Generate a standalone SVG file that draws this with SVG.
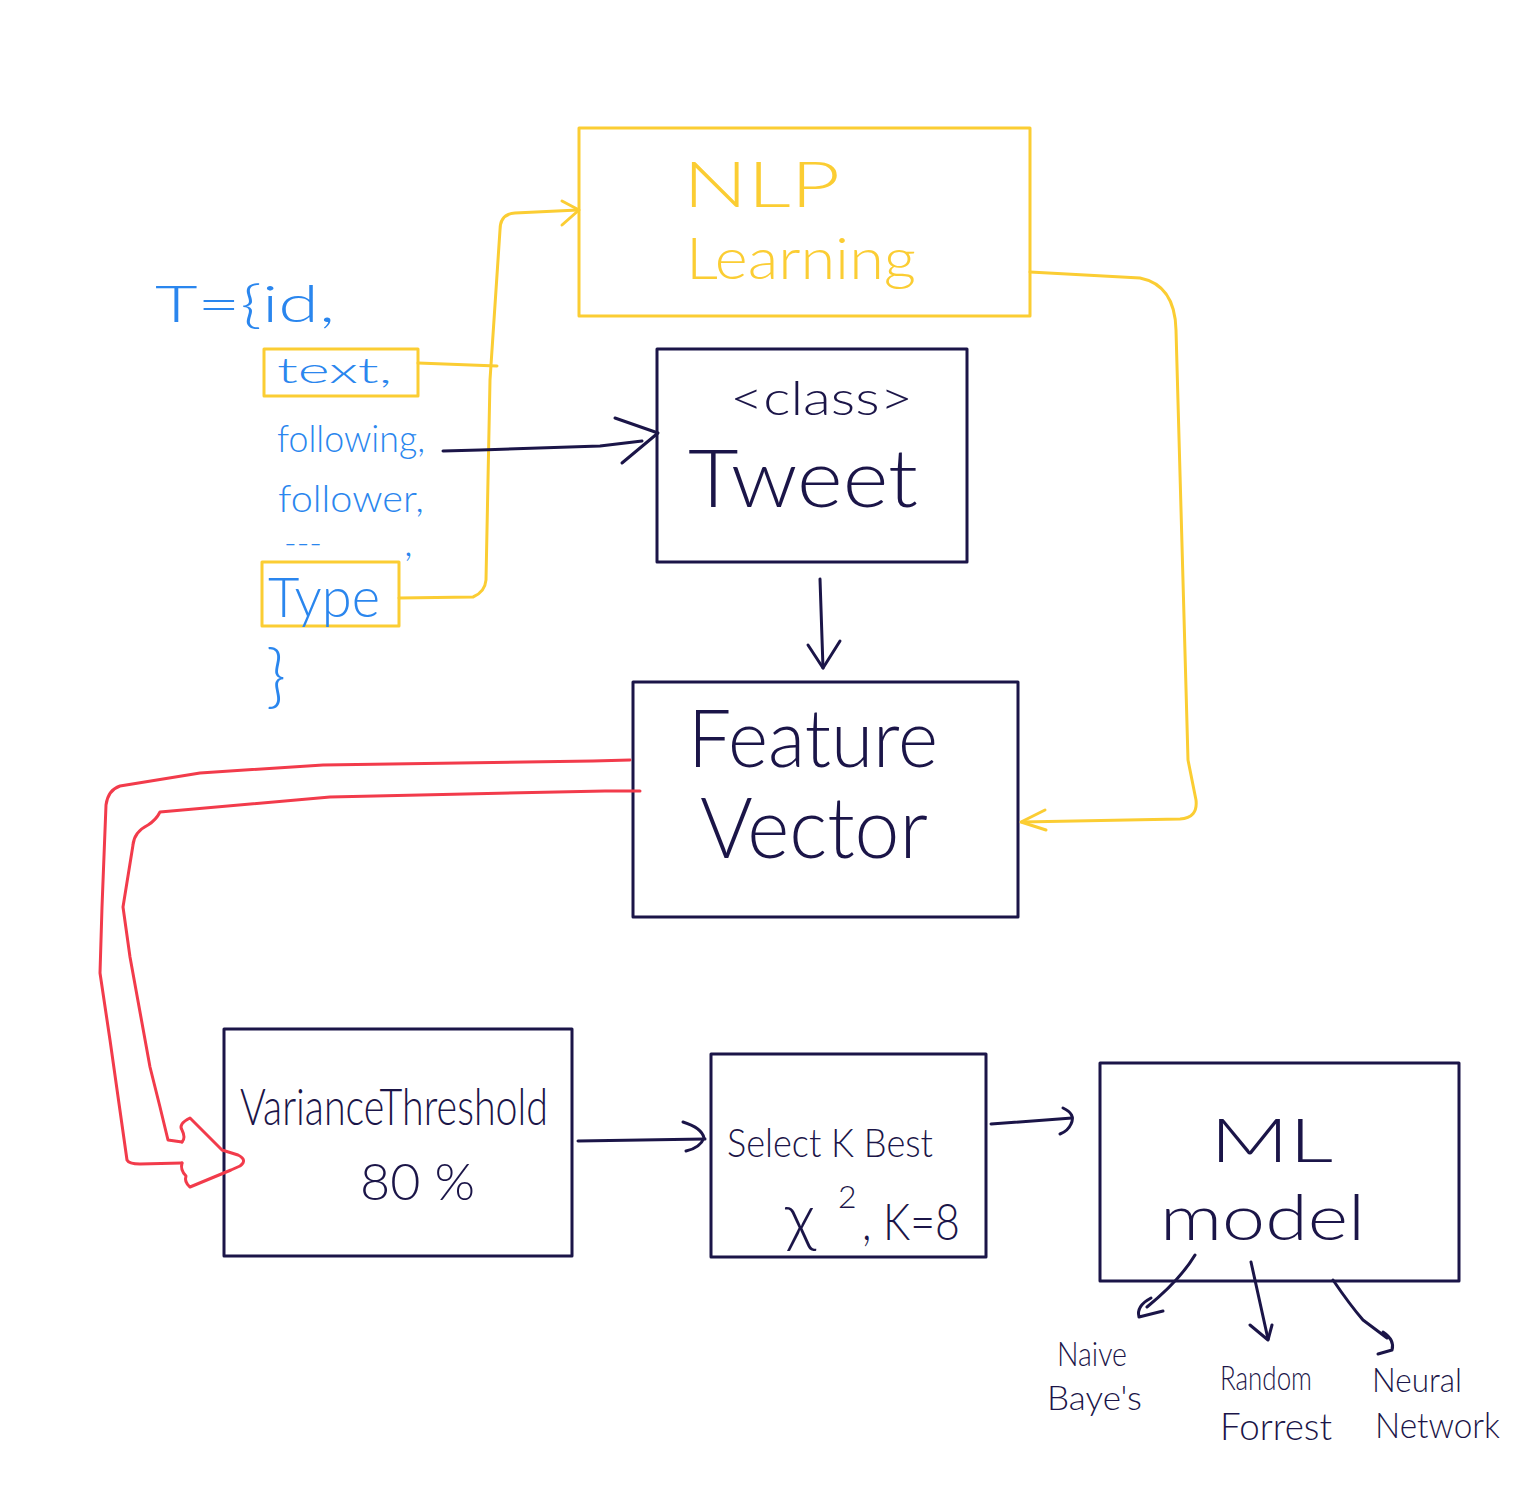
<svg xmlns="http://www.w3.org/2000/svg" width="1536" height="1496" viewBox="0 0 1536 1496">
<style>
.bg{fill:#ffffff}
.nv{fill:none;stroke:#1b1548;stroke-width:3;stroke-linecap:round;stroke-linejoin:round}
.ye{fill:none;stroke:#fbcd33;stroke-width:3;stroke-linecap:round;stroke-linejoin:round}
.rd{fill:none;stroke:#f23b4b;stroke-width:3;stroke-linecap:round;stroke-linejoin:round}
text{font-family:Lato,"Open Sans","Liberation Sans",sans-serif;font-weight:300}
.tn{fill:#1b1548}
.ty{fill:#fbcd33}
.tb{fill:#2a86ee}
</style>
<rect class="bg" x="0" y="0" width="1536" height="1496"/>

<g id="tweet-fields">
  <text class="tb" x="155" y="322" font-size="52" textLength="180" lengthAdjust="spacingAndGlyphs">T={id,</text>
  <rect class="ye" x="264" y="349" width="154" height="47"/>
  <text class="tb" x="277" y="383" font-size="36" textLength="115" lengthAdjust="spacingAndGlyphs">text,</text>
  <text class="tb" x="277" y="452" font-size="38" textLength="148" lengthAdjust="spacingAndGlyphs">following,</text>
  <text class="tb" x="278" y="512" font-size="38" textLength="146" lengthAdjust="spacingAndGlyphs">follower,</text>
  <text class="tb"><tspan x="284" y="553" font-size="30" textLength="38" lengthAdjust="spacingAndGlyphs">---</tspan><tspan x="404" y="556" font-size="40">,</tspan></text>
  <rect class="ye" x="262" y="562" width="137" height="64"/>
  <text class="tb" x="268" y="617" font-size="55" textLength="112" lengthAdjust="spacingAndGlyphs">Type</text>
  <text class="tb" x="266" y="700" font-size="68">}</text>
</g>

<g id="nlp">
  <rect class="ye" x="579" y="128" width="451" height="188"/>
  <text class="ty" x="683" y="207" font-size="64" textLength="157" lengthAdjust="spacingAndGlyphs">NLP</text>
  <text class="ty" x="686" y="279" font-size="58" textLength="230" lengthAdjust="spacingAndGlyphs">Learning</text>
</g>

<g id="tweet">
  <rect class="nv" x="657" y="349" width="310" height="213"/>
  <text class="tn" x="730" y="415" font-size="48" textLength="183" lengthAdjust="spacingAndGlyphs">&lt;class&gt;</text>
  <text class="tn" x="688" y="507" font-size="80" textLength="230" lengthAdjust="spacingAndGlyphs">Tweet</text>
</g>

<g id="feature-vector">
  <rect class="nv" x="633" y="682" width="385" height="235"/>
  <text class="tn" x="688" y="767" font-size="80" textLength="250" lengthAdjust="spacingAndGlyphs">Feature</text>
  <text class="tn" x="700" y="858" font-size="84" textLength="228" lengthAdjust="spacingAndGlyphs">Vector</text>
</g>

<g id="variance-threshold">
  <rect class="nv" x="224" y="1029" width="348" height="227"/>
  <text class="tn" x="240" y="1125" font-size="52" textLength="308" lengthAdjust="spacingAndGlyphs">VarianceThreshold</text>
  <text class="tn" x="360" y="1200" font-size="52" textLength="115" lengthAdjust="spacingAndGlyphs">80 %</text>
</g>

<g id="select-k-best">
  <rect class="nv" x="711" y="1054" width="275" height="203"/>
  <text class="tn" x="727" y="1157" font-size="40" textLength="206" lengthAdjust="spacingAndGlyphs">Select K Best</text>
  <text class="tn"><tspan x="785" y="1240" font-size="66">χ</tspan><tspan x="838" y="1208" font-size="32">2</tspan><tspan x="862" y="1240" font-size="52" textLength="98" lengthAdjust="spacingAndGlyphs">, K=8</tspan></text>
</g>

<g id="ml-model">
  <rect class="nv" x="1100" y="1063" width="359" height="218"/>
  <text class="tn" x="1210" y="1162" font-size="62" textLength="123" lengthAdjust="spacingAndGlyphs">ML</text>
  <text class="tn" x="1160" y="1240" font-size="64" textLength="205" lengthAdjust="spacingAndGlyphs">model</text>
</g>

<g id="naive-bayes">
  <text class="tn" x="1057" y="1366" font-size="34" textLength="70" lengthAdjust="spacingAndGlyphs">Naive</text>
  <text class="tn" x="1047" y="1410" font-size="34" textLength="95" lengthAdjust="spacingAndGlyphs">Baye's</text>
</g>
<g id="random-forest">
  <text class="tn" x="1220" y="1390" font-size="34" textLength="92" lengthAdjust="spacingAndGlyphs">Random</text>
  <text class="tn" x="1220" y="1440" font-size="38" textLength="112" lengthAdjust="spacingAndGlyphs">Forrest</text>
</g>
<g id="neural-network">
  <text class="tn" x="1372" y="1392" font-size="34" textLength="90" lengthAdjust="spacingAndGlyphs">Neural</text>
  <text class="tn" x="1375" y="1438" font-size="36" textLength="125" lengthAdjust="spacingAndGlyphs">Network</text>
</g>

<g id="connectors">
  <!-- yellow: text & Type -> NLP -->
  <path class="ye" d="M418,363 L497,366"/>
  <path class="ye" d="M399,598 L473,597 Q485,592 486,580 L490,380 L500,230 Q500,214 515,213 L578,210"/>
  <path class="ye" d="M562,201 L579,210 L562,225"/>
  <!-- yellow: NLP -> Feature Vector -->
  <path class="ye" d="M1030,272 L1140,278 Q1175,285 1176,330 L1188,760 L1196,800 Q1198,818 1180,819 L1022,822"/>
  <path class="ye" d="M1045,810 L1021,822 L1046,830"/>
  <!-- navy: following -> Tweet -->
  <path class="nv" d="M443,451 L480,450 L600,446 L642,441"/>
  <path class="nv" d="M615,418 L658,433 L622,463"/>
  <!-- navy: Tweet -> Feature Vector -->
  <path class="nv" d="M820,579 L823,668"/>
  <path class="nv" d="M808,645 L823,668 L840,641"/>
  <!-- red: Feature Vector -> VarianceThreshold (double line arrow) -->
  <path class="rd" d="M630,760 L593,761 L323,765 L200,773 L120,786 Q108,790 106,805 L102,907 L100,973 L110,1040 L127,1160 Q129,1164 140,1164 L182,1163"/>
  <path class="rd" d="M640,791 L605,791 L330,797 L160,812 Q156,820 148,825 Q134,832 133,845 L123,907 L130,957 L150,1067 L160,1107 L168,1140 L182,1142"/>
  <path class="rd" d="M182,1142 Q186,1138 182,1130 Q178,1124 190,1118 L222,1150 L238,1155 Q248,1160 240,1166 L231,1170 L190,1187 Q184,1182 186,1176 Q180,1170 182,1163"/>
  <!-- navy: VT -> Select K Best -->
  <path class="nv" d="M578,1141 L705,1139"/>
  <path class="nv" d="M683,1122 Q702,1128 704,1138 Q700,1148 686,1151"/>
  <!-- navy: Select -> ML -->
  <path class="nv" d="M991,1124 L1072,1118"/>
  <path class="nv" d="M1063,1108 Q1076,1114 1071,1124 Q1068,1131 1060,1134"/>
  <!-- ML -> Naive Bayes -->
  <path class="nv" d="M1195,1255 Q1180,1280 1147,1307"/>
  <path class="nv" d="M1151,1298 Q1136,1306 1139,1317 L1163,1311"/>
  <!-- ML -> Random Forest -->
  <path class="nv" d="M1251,1262 L1268,1339"/>
  <path class="nv" d="M1250,1325 L1268,1340 L1272,1325"/>
  <!-- ML -> Neural Network -->
  <path class="nv" d="M1333,1280 Q1350,1305 1363,1320 L1387,1338"/>
  <path class="nv" d="M1383,1332 Q1395,1340 1392,1350 L1378,1354"/>
</g>
</svg>
